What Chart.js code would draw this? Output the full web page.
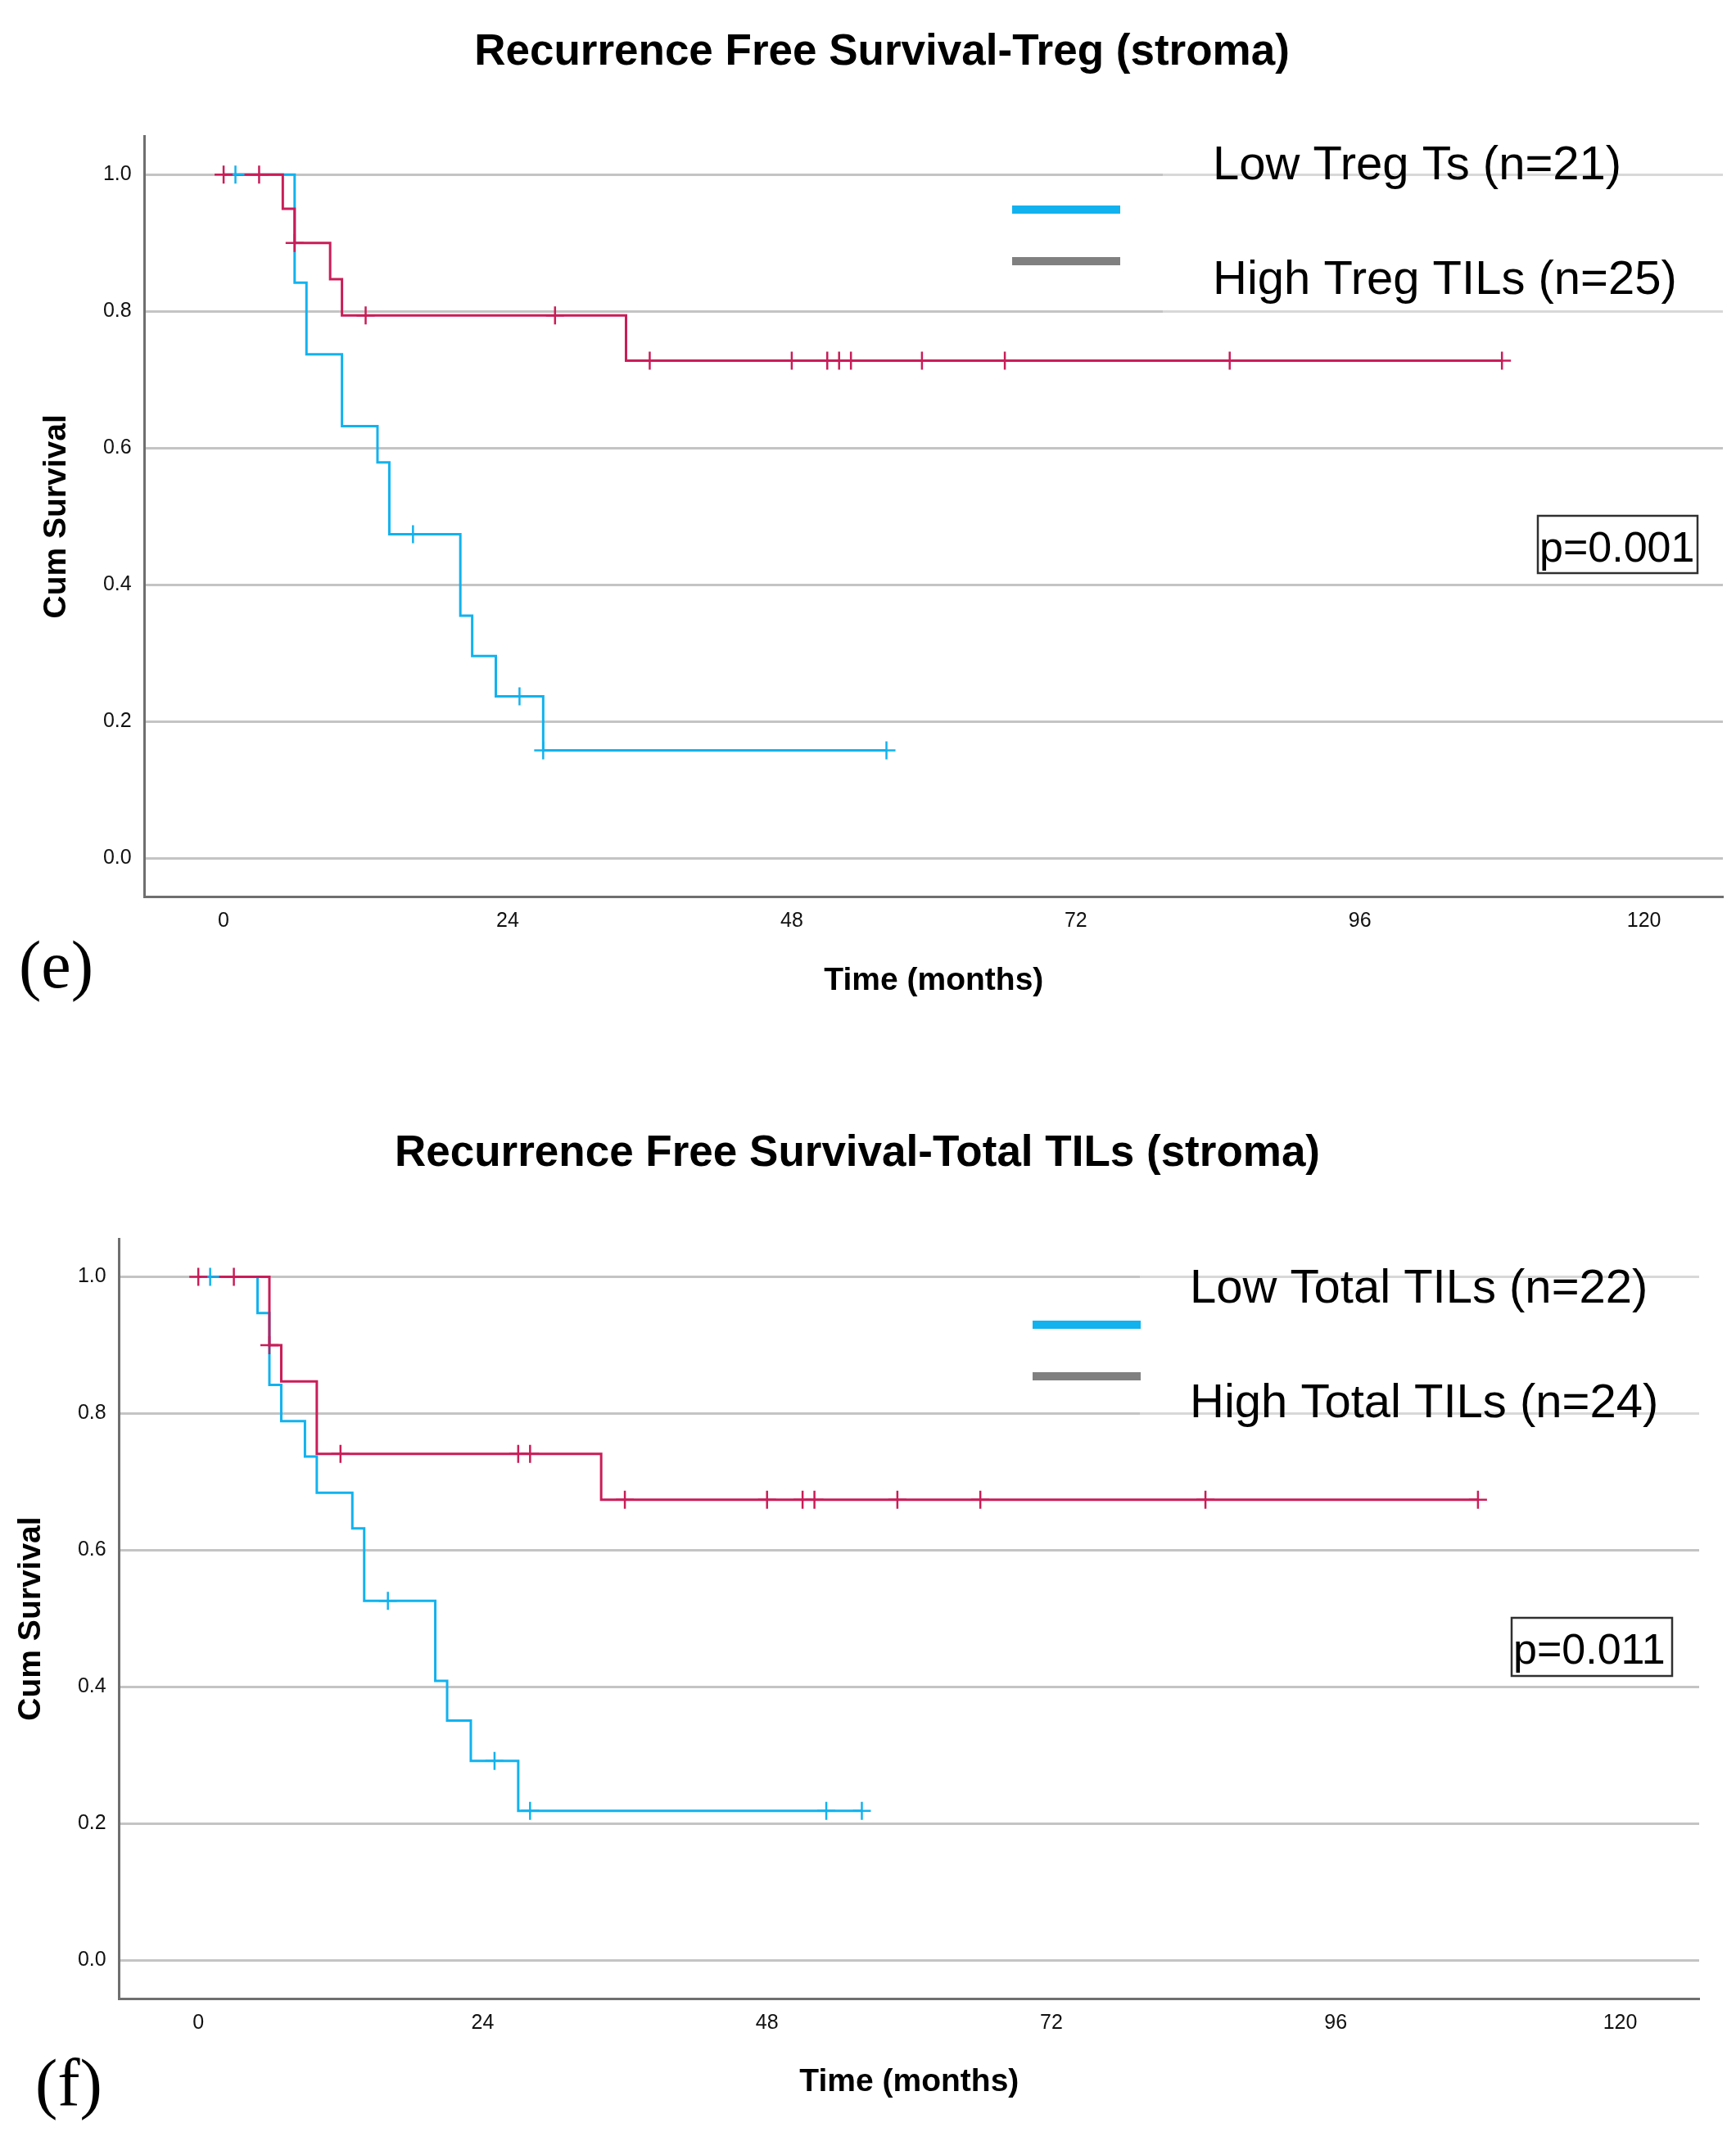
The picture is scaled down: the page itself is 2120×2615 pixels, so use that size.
<!DOCTYPE html>
<html>
<head>
<meta charset="utf-8">
<script src="https://cdn.jsdelivr.net/npm/chart.js@4.4.1/dist/chart.umd.min.js"></script>
<style>
html,body{margin:0;padding:0;background:#ffffff;}
body{width:2120px;height:2615px;position:relative;overflow:hidden;}
canvas{position:absolute;left:0;}
#chartE{top:0px;}
#chartF{top:1300px;}
</style>
</head>
<body>
<canvas id="chartE" width="2120" height="1300"></canvas>
<canvas id="chartF" width="2120" height="1315"></canvas>
<script>
// ---------- shared tick labels ----------
const xTickValues = [0, 24, 48, 72, 96, 120];
const yTickValues = [0.0, 0.2, 0.4, 0.6, 0.8, 1.0];
const xAxisTitle = 'Time (months)';
const yAxisTitle = 'Cum Survival';

// ---------- panel (e) ----------
const eTitle = 'Recurrence Free Survival-Treg (stroma)';
const eLowLabel = 'Low Treg Ts (n=21)';
const eHighLabel = 'High Treg TILs (n=25)';
const ePValue = 'p=0.001';
const ePanel = '(e)';
const eLowTimes = [0, 6, 7, 10, 13, 14, 20, 21, 23, 27, 56];
const eLowSurv  = [1.0, 0.842, 0.737, 0.632, 0.579, 0.474, 0.355, 0.296, 0.237, 0.158, 0.158];
const eLowCensor = [1, 16, 25, 27, 56];
const eHighTimes = [0, 5, 6, 9, 10, 34, 108];
const eHighSurv  = [1.0, 0.95, 0.90, 0.847, 0.794, 0.728, 0.728];
const eHighCensor = [0, 3, 6, 12, 28, 36, 48, 51, 52, 53, 59, 66, 85, 108];

// ---------- panel (f) ----------
const fTitle = 'Recurrence Free Survival-Total TILs (stroma)';
const fLowLabel = 'Low Total TILs (n=22)';
const fHighLabel = 'High Total TILs (n=24)';
const fPValue = 'p=0.011';
const fPanel = '(f)';
const fLowTimes = [0, 5, 6, 7, 9, 10, 13, 14, 20, 21, 23, 27, 56];
const fLowSurv  = [1.0, 0.947, 0.842, 0.789, 0.737, 0.684, 0.632, 0.526, 0.409, 0.351, 0.292, 0.219, 0.219];
const fLowCensor = [1, 16, 25, 28, 53, 56];
const fHighTimes = [0, 6, 7, 10, 34, 108];
const fHighSurv  = [1.0, 0.90, 0.847, 0.741, 0.674, 0.674];
const fHighCensor = [0, 3, 6, 12, 27, 28, 36, 48, 51, 52, 59, 66, 85, 108];

// ---------- styling ----------
const FONT = '"Liberation Sans", Arial, sans-serif';
const SERIF = '"Liberation Serif", "Times New Roman", serif';
const BLUE = '#12B2EE';
const RED = '#C91D58';
const GRAY_SWATCH = '#808080';

function survAt(times, surv, t) {
  let s = surv[0];
  for (let i = 0; i < times.length; i++) { if (t >= times[i]) s = surv[i]; }
  return s;
}
function toPoints(times, surv) { return times.map((t, i) => ({x: t, y: surv[i]})); }
function censorPoints(cens, times, surv) { return cens.map(t => ({x: t, y: survAt(times, surv, t)})); }

const annotPlugin = {
  id: 'kmAnnot',
  beforeDatasetsDraw(chart) {
    const a = chart.options.plugins.kmAnnot;
    const ctx = chart.ctx;
    ctx.save();
    ctx.fillStyle = 'rgba(255,255,255,0.35)';
    ctx.fillRect(a.legendBox[0], a.legendBox[1], a.legendBox[2], a.legendBox[3]);
    ctx.restore();
  },
  afterDraw(chart) {
    const a = chart.options.plugins.kmAnnot;
    const ctx = chart.ctx;
    ctx.save();
    // legend swatches
    ctx.fillStyle = BLUE;
    ctx.fillRect(a.swX, a.swBlueY, a.swW, 10);
    ctx.fillStyle = GRAY_SWATCH;
    ctx.fillRect(a.swX, a.swGrayY, a.swW, 10);
    // legend texts
    ctx.fillStyle = '#000';
    ctx.textBaseline = 'alphabetic';
    ctx.textAlign = 'left';
    ctx.font = '58px ' + FONT;
    ctx.fillText(a.lowLabel, a.textX, a.lowY);
    ctx.fillText(a.highLabel, a.textX, a.highY);
    // p value box
    ctx.fillStyle = '#fff';
    ctx.fillRect(a.pBox[0], a.pBox[1], a.pBox[2], a.pBox[3]);
    ctx.strokeStyle = '#303030';
    ctx.lineWidth = 2.5;
    ctx.strokeRect(a.pBox[0], a.pBox[1], a.pBox[2], a.pBox[3]);
    ctx.fillStyle = '#000';
    ctx.font = '52px ' + FONT;
    ctx.fillText(a.pText, a.pBox[0] + 2, a.pBaseline);
    // panel letter
    ctx.font = '82px ' + SERIF;
    ctx.fillText(a.panel, a.panelX, a.panelY);
    ctx.restore();
  }
};

function makeChart(canvasId, d, L) {
  return new Chart(document.getElementById(canvasId), {
    type: 'line',
    data: {
      datasets: [
        {label: d.lowLabel, data: toPoints(d.lowTimes, d.lowSurv), borderColor: BLUE, backgroundColor: BLUE,
         borderWidth: 3, stepped: true, pointRadius: 0, fill: false, order: 4, borderCapStyle: 'butt', borderJoinStyle: 'miter'},
        {label: d.highLabel, data: toPoints(d.highTimes, d.highSurv), borderColor: RED, backgroundColor: RED,
         borderWidth: 3, stepped: true, pointRadius: 0, fill: false, order: 3, borderCapStyle: 'butt', borderJoinStyle: 'miter'},
        {label: d.lowLabel + ' censored', data: censorPoints(d.lowCensor, d.lowTimes, d.lowSurv), showLine: false,
         pointStyle: 'cross', pointRadius: 11, pointBorderWidth: 2.5, pointBorderColor: BLUE, borderColor: BLUE, order: 2},
        {label: d.highLabel + ' censored', data: censorPoints(d.highCensor, d.highTimes, d.highSurv), showLine: false,
         pointStyle: 'cross', pointRadius: 11, pointBorderWidth: 2.5, pointBorderColor: RED, borderColor: RED, order: 1}
      ]
    },
    options: {
      responsive: false,
      devicePixelRatio: 1,
      animation: false,
      events: [],
      layout: {padding: {left: L.padL, right: L.padR, top: 0, bottom: 0}},
      plugins: {
        legend: {display: false},
        tooltip: {enabled: false},
        title: {display: true, text: d.title, color: '#000',
                font: {family: FONT, size: 53, weight: 'bold', lineHeight: 1.2},
                padding: {top: L.titleTop, bottom: L.titleBottom}},
        kmAnnot: L.annot
      },
      scales: {
        x: {
          type: 'linear', min: -6.667, max: 126.667,
          afterBuildTicks: s => { s.ticks = xTickValues.map(v => ({value: v})); },
          afterFit: s => { s.height = L.xHeight; },
          grid: {display: false, drawTicks: false},
          border: {display: true, color: '#6f6f6f', width: 3},
          ticks: {font: {family: FONT, size: 25}, color: '#111', padding: 15, maxRotation: 0, autoSkip: false,
                  callback: v => String(v)},
          title: {display: true, text: xAxisTitle, color: '#000',
                  font: {family: FONT, size: 39, weight: 'bold', lineHeight: 1},
                  padding: {top: 0, bottom: L.xTitleBottom}}
        },
        y: {
          type: 'linear', min: -0.0556, max: 1.0556,
          afterBuildTicks: s => { s.ticks = yTickValues.map(v => ({value: v})); },
          afterFit: s => { s.width = L.yWidth; },
          grid: {color: '#c4c4c4', lineWidth: 3, drawTicks: false},
          border: {display: true, color: '#6f6f6f', width: 3},
          ticks: {font: {family: FONT, size: 25}, color: '#111', padding: 16, callback: v => Number(v).toFixed(1)},
          title: {display: true, text: yAxisTitle, color: '#000',
                  font: {family: FONT, size: 39, weight: 'bold', lineHeight: 1},
                  padding: {top: 0, bottom: 0}}
        }
      }
    },
    plugins: [annotPlugin]
  });
}

makeChart('chartE', {
  title: eTitle, lowLabel: eLowLabel, highLabel: eHighLabel,
  lowTimes: eLowTimes, lowSurv: eLowSurv, lowCensor: eLowCensor,
  highTimes: eHighTimes, highSurv: eHighSurv, highCensor: eHighCensor
}, {
  padL: 50, padR: 16, yWidth: 126.7, xHeight: 205, xTitleBottom: 82,
  titleTop: 32.2, titleBottom: 70.9,
  annot: {
    legendBox: [1420, 168, 684, 225],
    swX: 1236, swW: 132, swBlueY: 251, swGrayY: 314,
    textX: 1481, lowY: 219, highY: 359,
    lowLabel: eLowLabel, highLabel: eHighLabel,
    pBox: [1878, 630, 195, 70], pBaseline: 686, pText: ePValue,
    panel: ePanel, panelX: 23, panelY: 1206
  }
});

makeChart('chartF', {
  title: fTitle, lowLabel: fLowLabel, highLabel: fHighLabel,
  lowTimes: fLowTimes, lowSurv: fLowSurv, lowCensor: fLowCensor,
  highTimes: fHighTimes, highSurv: fHighSurv, highCensor: fHighCensor
}, {
  padL: 19, padR: 45, yWidth: 126.7, xHeight: 174, xTitleBottom: 52.5,
  titleTop: 78, titleBottom: 71.4,
  annot: {
    legendBox: [1392, 215, 683, 225],
    swX: 1261, swW: 132, swBlueY: 313, swGrayY: 376,
    textX: 1453, lowY: 291, highY: 431,
    lowLabel: fLowLabel, highLabel: fHighLabel,
    pBox: [1846, 676, 196, 71], pBaseline: 732, pText: fPValue,
    panel: fPanel, panelX: 43, panelY: 1271.7
  }
});
</script>
</body>
</html>
